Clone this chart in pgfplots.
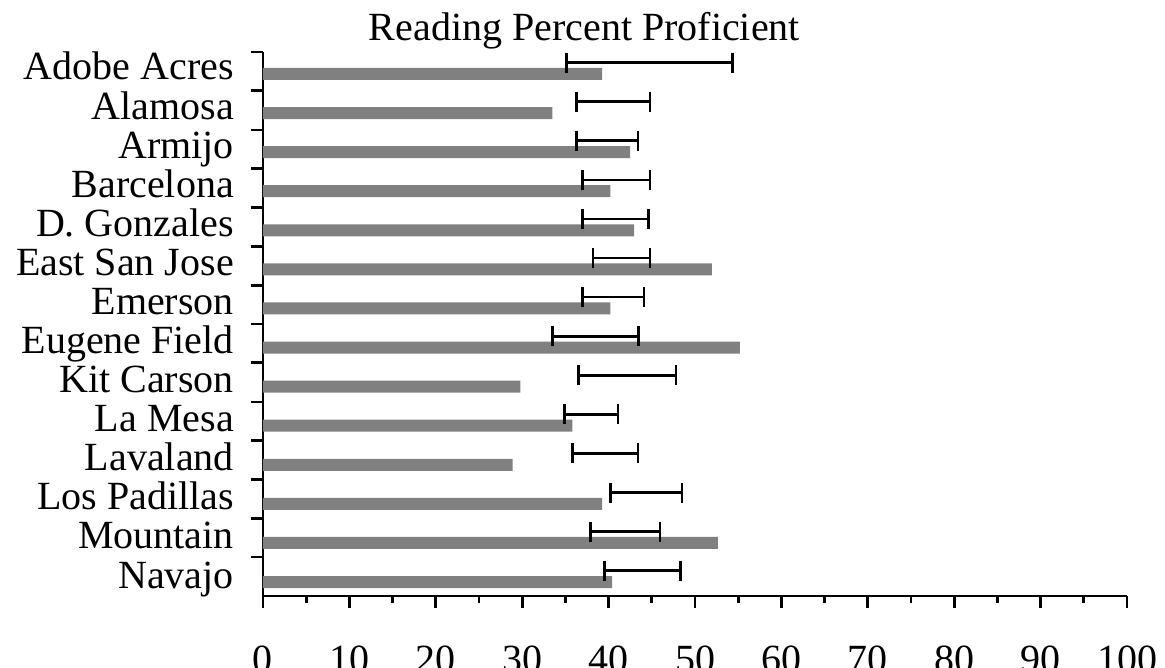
\documentclass[border=0pt]{standalone}
\usepackage{fontspec}
\setmainfont{Liberation Serif}
\usepackage{pgfplots}
\pgfplotsset{compat=1.18}
\begin{document}
\begin{tikzpicture}
\begin{axis}[
  scale only axis, width=864pt, height=544pt,
  xmin=0, xmax=100, ymin=0.642, ymax=14.563,
  clip=false,
  axis x line*=bottom, axis y line*=left,
  axis line style={line width=2.7pt, black},
  xtick={0,10,...,100}, minor x tick num=1,
  tick align=outside, major tick length=12pt, minor tick length=7pt,
  every tick/.style={black, line width=2.7pt},
  ytick={14.56,13.57,12.57,11.58,10.58,9.59,8.59,7.60,6.61,5.61,4.62,3.63,2.63,1.64},
  yticklabels={},
  extra y ticks={1,2,3,4,5,6,7,8,9,10,11,12,13,14},
  extra y tick labels={Navajo, Mountain, Los Padillas, Lavaland, La Mesa, Kit Carson, Eugene Field, Emerson, East San Jose, D. Gonzales, Barcelona, Armijo, Alamosa, Adobe Acres},
  extra y tick style={major tick length=0pt, ytick style={draw=none}},
  /pgf/number format/assume math mode=true,
  yticklabel style={anchor=base east, inner sep=0pt, xshift=-29pt, yshift=-6pt, font=\fontsize{40}{48}\selectfont},
  xticklabel style={anchor=north, inner sep=0pt, yshift=-38pt, font=\fontsize{40}{48}\selectfont},
  title={Reading Percent Proficient},
  title style={at={(axis description cs:0.372,1)}, anchor=base, yshift=5pt, inner sep=0pt, font=\fontsize{40}{48}\selectfont},
]
\addplot[xbar, bar width=12pt, bar shift=0pt, fill=gray, draw=none] coordinates {
  (40.4,1) (52.65,2) (39.26,3) (28.9,4) (35.8,5) (29.8,6) (55.2,7)
  (40.2,8) (51.96,9) (42.96,10) (40.2,11) (42.5,12) (33.5,13) (39.26,14)};
\addplot[draw=none, mark=none,
  error bars/.cd, x dir=both, x explicit, error mark=|,
  error bar style={draw=black, line width=2.7pt},
  error mark options={draw=black, line width=2.7pt, mark size=10pt}] coordinates {
  (43.9,1.29) +- (4.4,0)
  (41.93,2.29) +- (4.03,0)
  (44.35,3.29) +- (4.15,0)
  (39.6,4.29) +- (3.8,0)
  (38.0,5.29) +- (3.1,0)
  (42.15,6.29) +- (5.65,0)
  (38.475,7.29) +- (4.975,0)
  (40.55,8.29) +- (3.55,0)
  (41.5,9.29) +- (3.3,0)
  (40.8,10.29) +- (3.8,0)
  (40.9,11.29) +- (3.9,0)
  (39.85,12.29) +- (3.55,0)
  (40.55,13.29) +- (4.25,0)
  (44.7,14.29) +- (9.6,0)};
\coordinate (bl) at (axis cs:0,0.642);
\coordinate (tr) at (axis cs:100,14.563);
\end{axis}
\pgfresetboundingbox
\path ([shift={(-263pt,-72pt)}]bl) rectangle ([shift={(38pt,52pt)}]tr);
\end{tikzpicture}
\end{document}
